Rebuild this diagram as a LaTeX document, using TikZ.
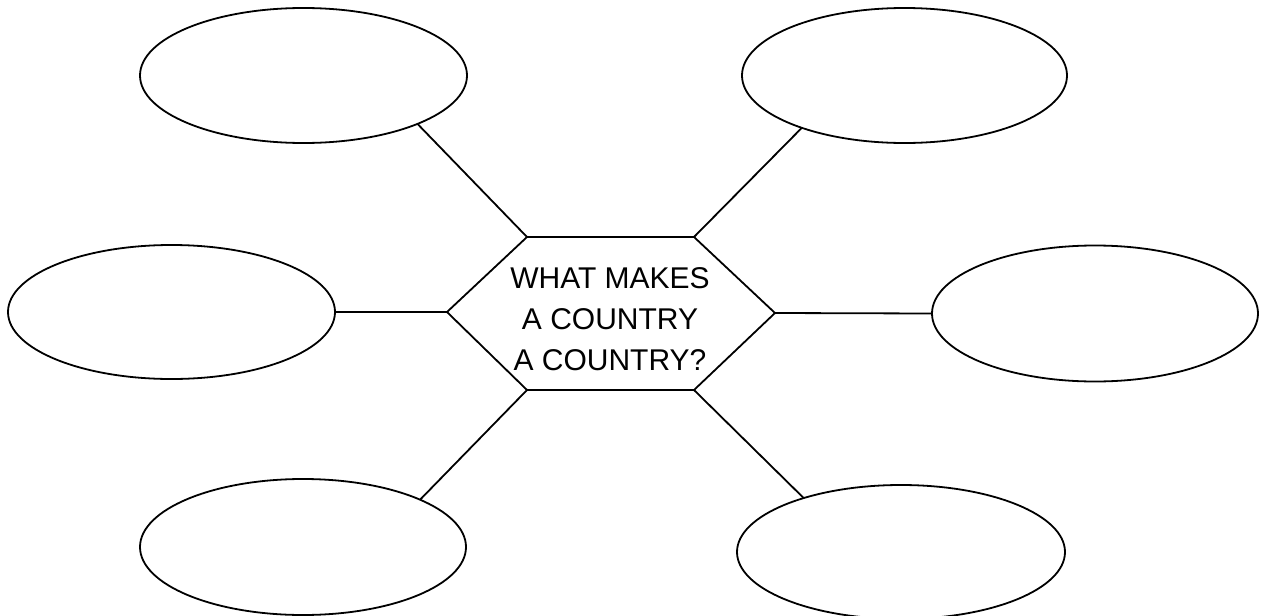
\documentclass[tikz,border=0pt]{standalone}
\usepackage{fontspec}
\setmainfont{Liberation Sans}
\usetikzlibrary{shapes.geometric}
\begin{document}
\begin{tikzpicture}[x=1pt,y=-1pt,
  bubble/.style={ellipse,draw=black,line width=1.8pt,inner sep=0pt,outer sep=0pt},
  link/.style={draw=black,line width=1.8pt},
  hexline/.style={draw=black,line width=1.8pt,line join=miter},
  title/.style={font=\fontsize{30}{41}\selectfont,align=center,inner sep=0pt}]
\useasboundingbox[fill=white] (0,0) rectangle (1262,616);
% ellipses
\node[bubble,minimum width=327pt,minimum height=135pt] (tl) at (303.5,75.5) {};
\node[bubble,minimum width=325pt,minimum height=135pt] (tr) at (904.5,75.5) {};
\node[bubble,minimum width=327pt,minimum height=134pt] (ml) at (171.5,312) {};
\node[bubble,minimum width=326pt,minimum height=136pt] (mr) at (1095,313.5) {};
\node[bubble,minimum width=326pt,minimum height=136pt] (bl) at (303,547) {};
\node[bubble,minimum width=328pt,minimum height=134pt] (br) at (901,552) {};
% hexagon corners
\coordinate (h1) at (527,237);
\coordinate (h2) at (694,237);
\coordinate (h3) at (775,313);
\coordinate (h4) at (694,390);
\coordinate (h5) at (527,390);
\coordinate (h6) at (447,312);
\draw[hexline] (h1) -- (h2) -- (h3) -- (h4) -- (h5) -- (h6) -- cycle;
\node[title] (q) at (610,319) {WHAT MAKES\\A COUNTRY\\A COUNTRY?};
% connectors
\draw[link] (h1) -- (tl.-23.7);
\draw[link] (h2) -- (tr.207.1);
\draw[link] (h6) -- (ml.east);
\draw[link] (h3) -- (mr.west);
\draw[link] (h5) -- (bl.22.8);
\draw[link] (h4) -- (br.151.9);
\end{tikzpicture}
\end{document}
